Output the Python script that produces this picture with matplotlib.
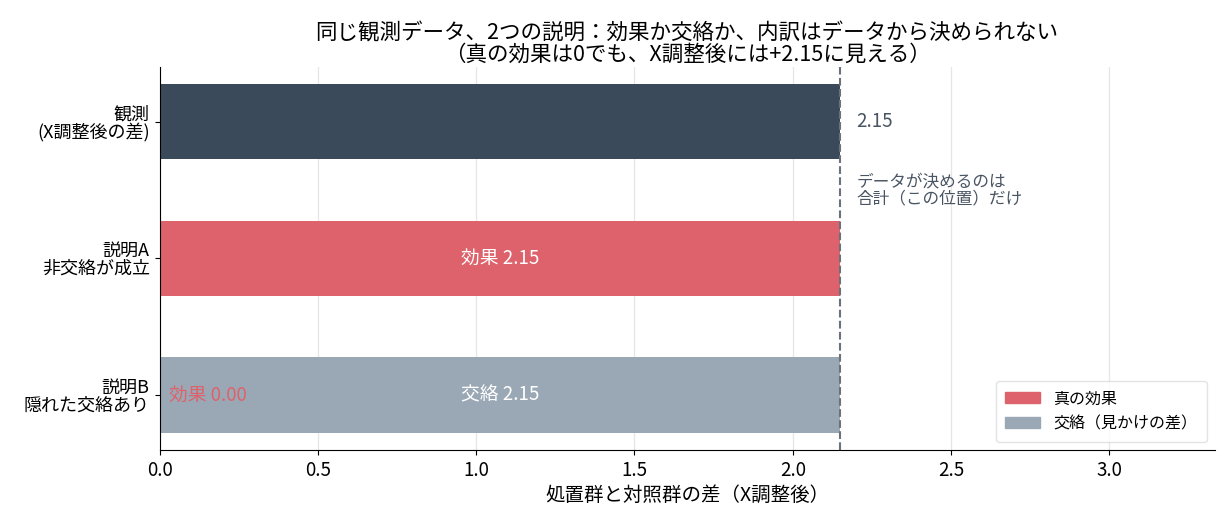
import matplotlib
matplotlib.use("Agg")
import matplotlib.pyplot as plt
from matplotlib.patches import Patch

plt.rcParams["font.family"] = ["Noto Sans CJK JP", "DejaVu Sans"]

# data
rows = ["観測\n(X調整後の差)", "説明A\n非交絡が成立", "説明B\n隠れた交絡あり"]
observed = 2.15
effect = [0.0, 2.15, 0.00]
confound = [0.0, 0.0, 2.15]

c_obs = "#3b4a5a"
c_eff = "#de626b"
c_conf = "#9aa8b5"

fig = plt.figure(figsize=(12.27, 5.25), dpi=100)
ax = fig.add_axes([0.13, 0.143, 0.86, 0.73])

ypos = [2, 1, 0]
h = 0.55
ax.barh(ypos[0], observed, height=h, color=c_obs, zorder=2)
ax.barh(ypos[1], effect[1], height=h, color=c_eff, zorder=2)
ax.barh(ypos[2], effect[2], height=h, color=c_eff, zorder=2)
ax.barh(ypos[2], confound[2], left=effect[2], height=h, color=c_conf, zorder=2)

ax.axvline(observed, color="#6b7178", linestyle="--", linewidth=1.5, zorder=3)

ax.text(observed + 0.05, ypos[0], f"{observed:.2f}", va="center", ha="left",
        fontsize=13.5, color="#4a5563")
ax.text(observed + 0.05, 1.5, "データが決めるのは\n合計（この位置）だけ", va="center",
        ha="left", fontsize=12, color="#4a5563", linespacing=1.0)
ax.text(effect[1] / 2, ypos[1], f"効果 {effect[1]:.2f}", ha="center", va="center",
        color="white", fontsize=13.5)
ax.text(effect[2] + confound[2] / 2, ypos[2], f"交絡 {confound[2]:.2f}", ha="center",
        va="center", color="white", fontsize=13.5)
ax.text(0.03, ypos[2], f"効果 {effect[2]:.2f}", ha="left", va="center",
        color=c_eff, fontsize=13.5)

ax.set_yticks(ypos)
ax.set_yticklabels(rows, fontsize=13, linespacing=0.95)
ax.set_xlim(0, observed * 1.55)
ax.set_xticks([0, 0.5, 1.0, 1.5, 2.0, 2.5, 3.0])
ax.set_xticklabels(["0.0", "0.5", "1.0", "1.5", "2.0", "2.5", "3.0"], fontsize=13.5)
ax.set_xlabel("処置群と対照群の差（X調整後）", fontsize=14, labelpad=3)
ax.grid(axis="x", color="#e6e6e6", linewidth=0.9, zorder=0)
ax.set_axisbelow(True)
for s in ["top", "right"]:
    ax.spines[s].set_visible(False)

handles = [Patch(color=c_eff, label="真の効果"), Patch(color=c_conf, label="交絡（見かけの差）")]
ax.legend(handles=handles, loc="lower right", fontsize=11.5, frameon=True,
          edgecolor="#dddddd", borderpad=0.6, handlelength=2.2)

ax.set_title("同じ観測データ、2つの説明：効果か交絡か、内訳はデータから決められない\n"
             "（真の効果は0でも、X調整後には+2.15に見える）", fontsize=15.5,
             linespacing=0.95, pad=4)

fig.savefig("out.png", dpi=100)
